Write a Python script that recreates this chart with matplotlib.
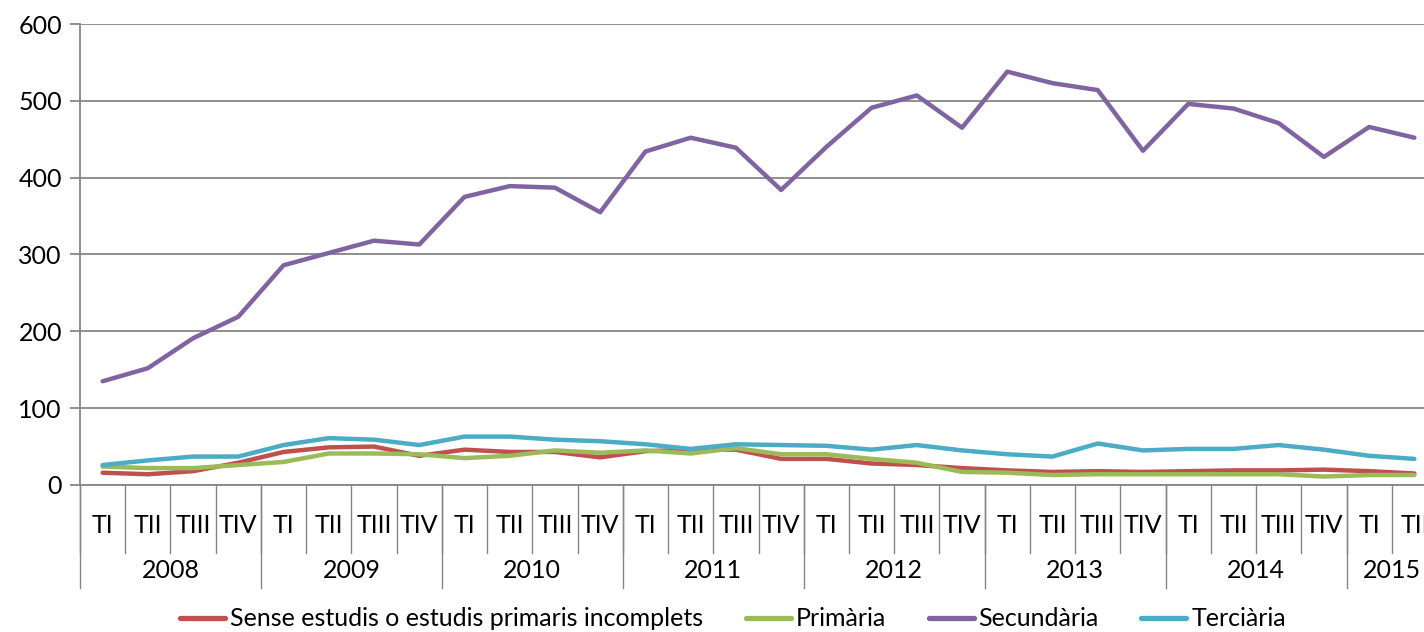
import matplotlib
matplotlib.use("Agg")
import matplotlib.pyplot as plt
import numpy as np

years = ["2008", "2009", "2010", "2011", "2012", "2013", "2014", "2015"]
quarters = ["TI", "TII", "TIII", "TIV"] * 7 + ["TI", "TII"]

sense_estudis = [16, 14, 18, 29, 43, 49, 50, 38, 46, 43, 43, 36, 44, 46, 46, 34,
                 34, 28, 26, 22, 19, 17, 18, 17, 18, 19, 19, 20, 18, 15]
primaria = [24, 22, 22, 26, 30, 41, 41, 40, 35, 38, 45, 42, 45, 41, 48, 40,
            40, 34, 29, 17, 16, 13, 14, 14, 14, 14, 14, 11, 13, 13]
secundaria = [135, 152, 191, 219, 286, 302, 318, 313, 375, 389, 387, 355, 434, 452, 439, 384,
              440, 491, 507, 465, 538, 523, 514, 435, 496, 490, 471, 427, 466, 452]
terciaria = [26, 32, 37, 37, 52, 61, 59, 52, 63, 63, 59, 57, 53, 47, 53, 52,
             51, 46, 52, 45, 40, 37, 54, 45, 47, 47, 52, 46, 38, 34]

series = [
    ("Sense estudis o estudis primaris incomplets", sense_estudis, "#C0504D"),
    ("Primària", primaria, "#9BBB59"),
    ("Secundària", secundaria, "#8064A2"),
    ("Terciària", terciaria, "#4BACC6"),
]

plt.rcParams['font.family'] = ['Lato', 'DejaVu Sans']
FS = 18

W, H = 1424, 632
fig = plt.figure(figsize=(W / 100, H / 100), dpi=100)
left_px, right_px, top_px, bot_px = 80, 1437, 24, 485
ax = fig.add_axes([left_px / W, 1 - bot_px / H, (right_px - left_px) / W, (bot_px - top_px) / H])

n = len(quarters)
x = np.arange(n)
for name, vals, col in series:
    ax.plot(x, vals, color=col, lw=3.2, label=name, solid_capstyle='round', zorder=3)

ax.set_xlim(-0.5, n - 0.5)
ax.set_ylim(0, 600)
ax.set_yticks(range(0, 601, 100))
ax.yaxis.grid(True, color="#868686", lw=1.3)
ax.set_axisbelow(True)
for s in ["top", "right"]:
    ax.spines[s].set_visible(False)
ax.spines["left"].set_color("#868686")
ax.spines["left"].set_linewidth(1.3)
ax.spines["bottom"].set_color("#868686")
ax.spines["bottom"].set_linewidth(1.3)
ax.tick_params(axis='y', labelsize=FS, length=7, color="#868686", width=1.3, pad=6)

ax.set_xticks(x)
ax.set_xticklabels(quarters, fontsize=FS)
ax.tick_params(axis='x', length=0, pad=21)

trans = ax.get_xaxis_transform()
px = 1.0 / (bot_px - top_px)
# quarter separators
for b in np.arange(0, n + 1) - 0.5:
    ax.plot([b, b], [0, -68 * px], transform=trans, color="#868686", lw=1.0, clip_on=False)
# year separators and labels
for i, yr in enumerate(years):
    start = i * 4 - 0.5
    ax.plot([start, start], [0, -103 * px], transform=trans, color="#868686", lw=1.0, clip_on=False)
    center = start + 2.0 if i < len(years) - 1 else start + 1.0
    ax.text(center, -86 * px, yr, transform=trans, ha='center', va='center', fontsize=FS)

leg = fig.legend(loc='center', bbox_to_anchor=(733 / W, 1 - 619 / H), ncol=4, frameon=False,
                 fontsize=FS, handlelength=1.8, handletextpad=0.2, columnspacing=1.7)
for line in leg.get_lines():
    line.set_linewidth(3.8)

fig.savefig("out.png", dpi=100)
